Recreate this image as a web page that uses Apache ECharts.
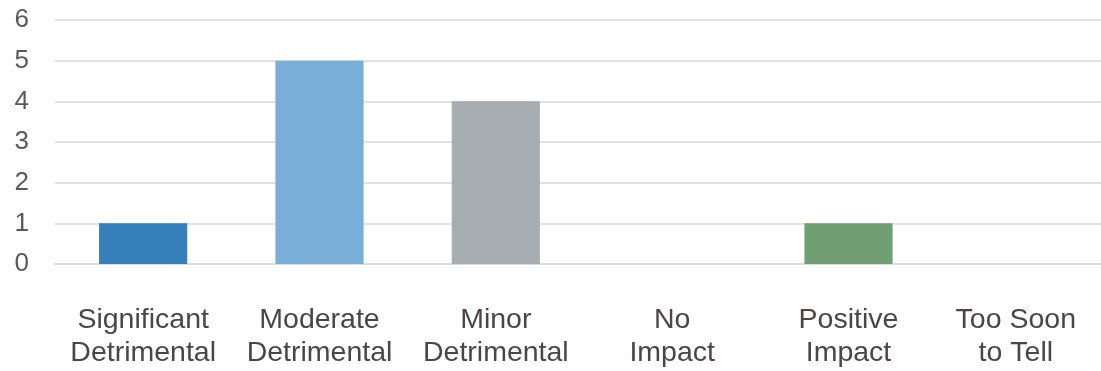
<!DOCTYPE html>
<html>
<head>
<meta charset="utf-8">
<script src="https://cdn.jsdelivr.net/npm/echarts@6/dist/echarts.min.js"></script>
<style>
  html, body { margin: 0; padding: 0; background: #ffffff; overflow: hidden; }
  /* the drawing surface is slightly wider than the window; the plot's right end is cut off */
  #chart { width: 1113px; height: 371px; }
</style>
</head>
<body>
<div id="chart"></div>
<script>
// Impact categories (two-line labels) and response counts
const categories = [
  'Significant\nDetrimental',
  'Moderate\nDetrimental',
  'Minor\nDetrimental',
  'No\nImpact',
  'Positive\nImpact',
  'Too Soon\nto Tell'
];
const counts = [1, 5, 4, 0, 1, 0];
const barColors = ['#3580BA', '#78AED7', '#A8ADB1', '#A8ADB1', '#719F74', '#719F74'];
const yTicks = [0, 1, 2, 3, 4, 5, 6];

// keep the last label clear of the cut-off right edge
const categoryData = categories.map((c, i) =>
  i === categories.length - 1
    ? { value: c, textStyle: { padding: [0, 18, 0, 0] } }
    : c
);

const chart = echarts.init(document.getElementById('chart'), null, { renderer: 'canvas' });

chart.setOption({
  animation: false,
  backgroundColor: '#ffffff',
  grid: { left: 55, right: 0, top: 20, bottom: 107, containLabel: false },
  xAxis: {
    type: 'category',
    data: categoryData,
    axisLine: { show: true, lineStyle: { color: '#d9d9d9', width: 1.5 } },
    axisTick: { show: false },
    axisLabel: {
      interval: 0,
      margin: 40,
      fontFamily: 'Liberation Sans, Arial, sans-serif',
      fontSize: 28.5,
      lineHeight: 33,
      color: '#4d4545'
    }
  },
  yAxis: {
    type: 'value',
    min: yTicks[0],
    max: yTicks[yTicks.length - 1],
    interval: 1,
    axisLine: { show: false },
    axisTick: { show: false },
    splitLine: { lineStyle: { color: '#d9d9d9', width: 1.5 } },
    axisLabel: {
      margin: 26,
      fontFamily: 'Liberation Sans, Arial, sans-serif',
      fontSize: 26,
      color: '#595959'
    }
  },
  series: [{
    type: 'bar',
    barWidth: '50%',
    data: counts.map((v, i) => ({ value: v, itemStyle: { color: barColors[i] } }))
  }]
});
</script>
</body>
</html>
